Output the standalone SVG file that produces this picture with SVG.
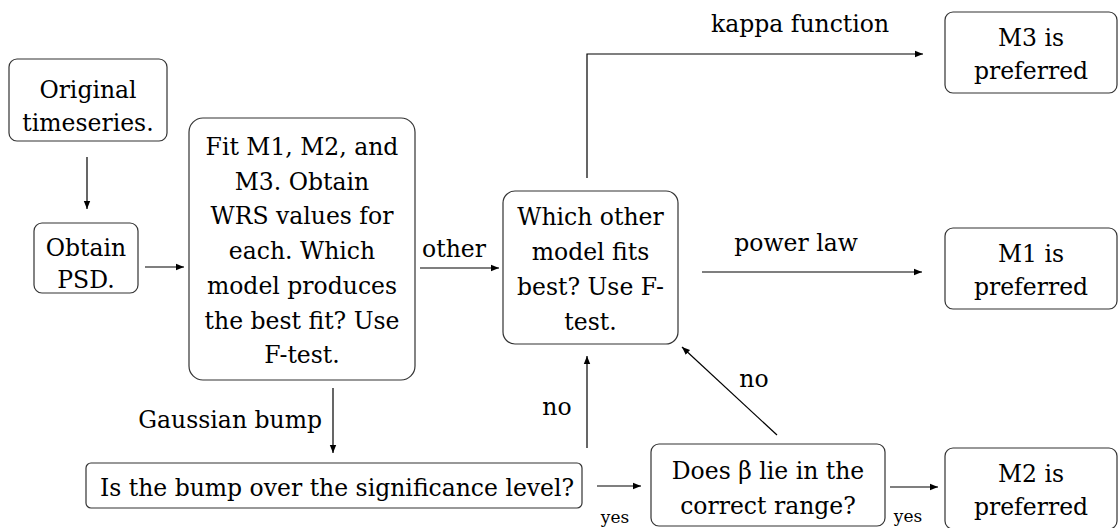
<svg xmlns="http://www.w3.org/2000/svg" width="1119" height="528" viewBox="0 0 1119 528">
<style>
.box{fill:#fff;stroke:#333;stroke-width:1.2}
.t{font-family:'DejaVu Serif','Liberation Serif',serif;font-size:23.5px;fill:#000;text-anchor:middle}
.s{font-family:'DejaVu Serif','Liberation Serif',serif;font-size:17px;fill:#000;text-anchor:middle}
.c{fill:none;stroke:#000;stroke-width:1.2}
</style>
<defs>
<marker id="ah" viewBox="0 0 10 10" refX="10" refY="5" markerWidth="8" markerHeight="8" markerUnits="userSpaceOnUse" orient="auto">
<path d="M0,1 L10,5 L0,9 Z" fill="#000"/>
</marker>
</defs>
<rect width="1119" height="528" fill="#fff"/>
<g id="connectors">
<line class="c" x1="87" y1="157" x2="87" y2="209" marker-end="url(#ah)"/>
<line class="c" x1="145" y1="267" x2="184" y2="267" marker-end="url(#ah)"/>
<line class="c" x1="420" y1="268" x2="499" y2="268" marker-end="url(#ah)"/>
<line class="c" x1="333" y1="388" x2="333" y2="453" marker-end="url(#ah)"/>
<polyline class="c" points="587,178 587,54 923,54" marker-end="url(#ah)"/>
<line class="c" x1="702" y1="272" x2="922" y2="272" marker-end="url(#ah)"/>
<line class="c" x1="597" y1="486" x2="641" y2="486" marker-end="url(#ah)"/>
<line class="c" x1="777" y1="435" x2="682" y2="347" marker-end="url(#ah)"/>
<line class="c" x1="587" y1="448" x2="587" y2="356" marker-end="url(#ah)"/>
<line class="c" x1="890" y1="487" x2="938" y2="487" marker-end="url(#ah)"/>
<text class="t" x="454" y="257">other</text>
<text class="t" x="322" y="428" style="text-anchor:end">Gaussian bump</text>
<text class="t" x="557" y="415">no</text>
<text class="t" x="800" y="32">kappa function</text>
<text class="t" x="796" y="251">power law</text>
<text class="t" x="754" y="387">no</text>
<text class="s" x="615" y="523">yes</text>
<text class="s" x="908" y="522">yes</text>
</g>
<g id="original">
<rect class="box" x="9" y="59" width="158" height="82" rx="8"/>
<text class="t" x="88" y="98">Original</text>
<text class="t" x="88" y="131">timeseries.</text>
</g>
<g id="obtain">
<rect class="box" x="34" y="223" width="104" height="70" rx="8"/>
<text class="t" x="86" y="256">Obtain</text>
<text class="t" x="86" y="288">PSD.</text>
</g>
<g id="fit">
<rect class="box" x="189" y="118" width="226" height="262" rx="14"/>
<text class="t" x="302" y="155">Fit M1, M2, and</text>
<text class="t" x="302" y="190">M3. Obtain</text>
<text class="t" x="302" y="224">WRS values for</text>
<text class="t" x="302" y="259">each. Which</text>
<text class="t" x="302" y="294">model produces</text>
<text class="t" x="302" y="329">the best fit? Use</text>
<text class="t" x="302" y="363">F-test.</text>
</g>
<g id="which">
<rect class="box" x="503" y="191" width="175" height="153" rx="12"/>
<text class="t" x="590.5" y="225">Which other</text>
<text class="t" x="590.5" y="260">model fits</text>
<text class="t" x="590.5" y="295">best? Use F-</text>
<text class="t" x="590.5" y="330">test.</text>
</g>
<g id="bump">
<rect class="box" x="86" y="463" width="496" height="45" rx="5"/>
<text class="t" x="337" y="496">Is the bump over the significance level?</text>
</g>
<g id="beta">
<rect class="box" x="651" y="444" width="234" height="82" rx="8"/>
<text class="t" x="768" y="479">Does β lie in the</text>
<text class="t" x="768" y="514">correct range?</text>
</g>
<g id="m3">
<rect class="box" x="945" y="12" width="172" height="81" rx="8"/>
<text class="t" x="1031" y="46">M3 is</text>
<text class="t" x="1031" y="79">preferred</text>
</g>
<g id="m1">
<rect class="box" x="945" y="228" width="172" height="81" rx="8"/>
<text class="t" x="1031" y="262">M1 is</text>
<text class="t" x="1031" y="295">preferred</text>
</g>
<g id="m2">
<rect class="box" x="945" y="448" width="172" height="81" rx="8"/>
<text class="t" x="1031" y="482">M2 is</text>
<text class="t" x="1031" y="515">preferred</text>
</g>
</svg>
